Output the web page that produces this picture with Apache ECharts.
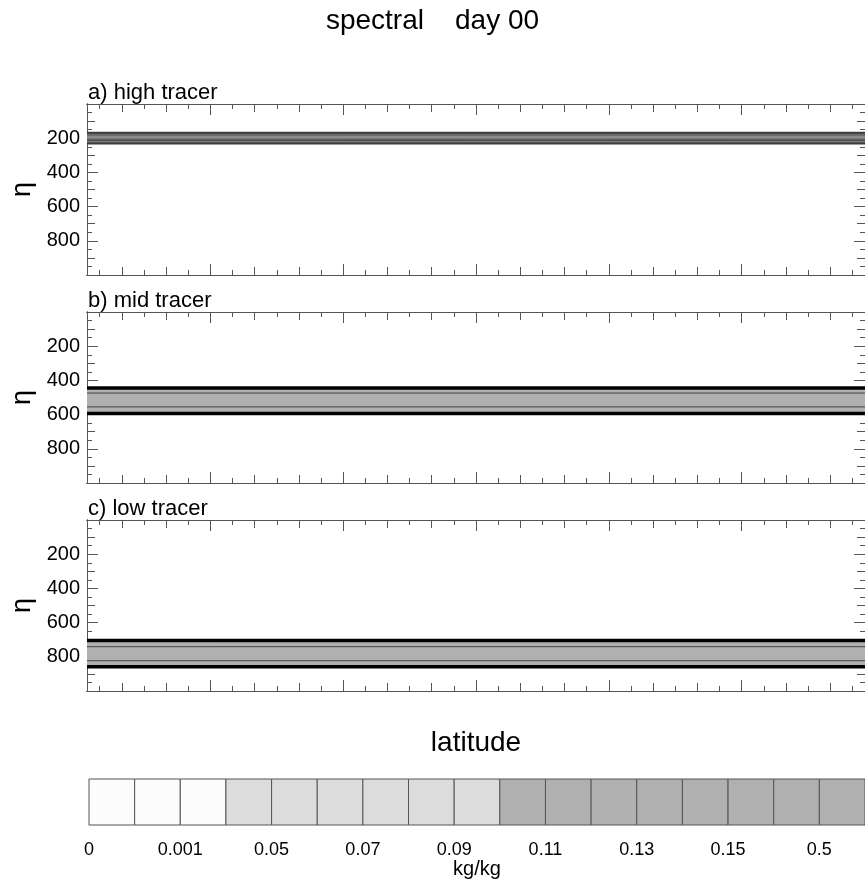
<!DOCTYPE html>
<html>
<head>
<meta charset="utf-8">
<title>spectral day 00</title>
<script src="https://cdn.jsdelivr.net/npm/echarts@6/dist/echarts.min.js"></script>
<style>
  html, body { margin: 0; padding: 0; background: #fff; }
  #chart { width: 865px; height: 884px; }
</style>
</head>
<body>
<div id="chart"></div>
<script>
// Latitude extent of the Gaussian grid (degrees)
const latEdges = [-87.86, 87.86];
// Vertical coordinate extent (eta, top to bottom)
const etaEdges = [0, 1000];

// Axis tick positions
const latTicksMajor = [-60, -30, 0, 30, 60];
const latTicksMid = [-80, -70, -50, -40, -20, -10, 10, 20, 40, 50, 70, 80];
const latTicksMinor = [-85, -75, -65, -55, -45, -35, -25, -15, -5, 5, 15, 25, 35, 45, 55, 65, 75, 85];
const etaTicksMajor = [200, 400, 600, 800];
const etaTicksMid = [100, 300, 500, 700, 900];
const etaTicksMinor = [50, 150, 250, 350, 450, 550, 650, 750, 850, 950];

// Panels
const panelTitles = ['a) high tracer', 'b) mid tracer', 'c) low tracer'];

// Tracer layer (filled band) and contour levels in eta, per panel
const highBand = [166, 232];
const highEdgeContours = [166, 232];
const highInnerContours = [172, 181, 206, 214, 224];

const midBand = [444, 594];
const midEdgeContours = [444, 594];
const midInnerContours = [474, 555];

const lowBand = [705, 858];
const lowEdgeContours = [705, 858];
const lowInnerContours = [741, 823];

// Colour bar: tick labels every second boundary and shade class of each cell
const colorbarLabels = ['0', '0.001', '0.05', '0.07', '0.09', '0.11', '0.13', '0.15', '0.5'];
const colorbarLabelPos = [0, 2, 4, 6, 8, 10, 12, 14, 16];
const colorbarShade = [0, 0, 0, 1, 1, 1, 1, 1, 1, 2, 2, 2, 2, 2, 2, 2, 2];

const FONT = '"Liberation Sans", Arial, Helvetica, sans-serif';
const shadePalette = ['#fcfcfc', '#dcdcdc', '#b0b0b0'];
const axisColor = '#555';

const panels = [
  { band: highBand, edge: highEdgeContours, inner: highInnerContours,
    fill: '#8c8c8c', edgeStyle: { color: '#3a3a3a', width: 1.5 }, innerStyle: { color: '#4a4a4a', width: 1 } },
  { band: midBand, edge: midEdgeContours, inner: midInnerContours,
    fill: shadePalette[2], edgeStyle: { color: '#000', width: 3.5 }, innerStyle: { color: '#444', width: 1 } },
  { band: lowBand, edge: lowEdgeContours, inner: lowInnerContours,
    fill: shadePalette[2], edgeStyle: { color: '#000', width: 3.5 }, innerStyle: { color: '#444', width: 1 } }
];

const gridLeft = 87, gridWidth = 788, gridHeight = 171;
const gridTops = [104, 312, 520];

const grids = [];
const xAxes = [];
const yAxes = [];
const series = [];
const titles = [{
  text: 'spectral    day 00',
  left: 'center', top: 7, padding: 0,
  textStyle: { fontFamily: FONT, fontSize: 28, fontWeight: 'normal', color: '#000' }
}];

const lineStyle = { color: axisColor, width: 1 };

gridTops.forEach((top, g) => {
  grids.push({ left: gridLeft, top: top, width: gridWidth, height: gridHeight, containLabel: false });
  titles.push({
    text: panelTitles[g], left: gridLeft + 1, top: top - 22, padding: 0,
    textStyle: { fontFamily: FONT, fontSize: 22, fontWeight: 'normal', color: '#000' }
  });

  // three tick levels along both horizontal edges
  const xIndex = xAxes.length;
  ['bottom', 'top'].forEach(pos => {
    [[latTicksMajor, 11], [latTicksMid, 8], [latTicksMinor, 5]].forEach(([vals, len], k) => {
      const ax = {
        gridIndex: g, type: 'value', position: pos,
        min: latEdges[0], max: latEdges[1],
        axisLine: { show: true, onZero: false, lineStyle },
        axisTick: { show: true, inside: true, length: len, customValues: vals, lineStyle },
        axisLabel: { show: false },
        splitLine: { show: false }
      };
      if (g === 2 && pos === 'bottom' && k === 0) {
        ax.name = 'latitude';
        ax.nameLocation = 'middle';
        ax.nameGap = 38;
        ax.nameTextStyle = { fontFamily: FONT, fontSize: 28, color: '#000' };
      }
      xAxes.push(ax);
    });
  });

  // three tick levels along both vertical edges
  const yIndex = yAxes.length;
  ['left', 'right'].forEach(pos => {
    [[etaTicksMajor, 11], [etaTicksMid, 8], [etaTicksMinor, 5]].forEach(([vals, len], k) => {
      const ax = {
        gridIndex: g, type: 'value', position: pos, inverse: true,
        min: etaEdges[0], max: etaEdges[1],
        axisLine: { show: true, onZero: false, lineStyle },
        axisTick: { show: true, inside: true, length: len, customValues: vals, lineStyle },
        axisLabel: { show: false },
        splitLine: { show: false }
      };
      if (pos === 'left' && k === 0) {
        ax.axisLabel = {
          show: true, customValues: etaTicksMajor, margin: 7,
          fontFamily: FONT, fontSize: 20, color: '#000'
        };
        ax.name = 'η';
        ax.nameLocation = 'middle';
        ax.nameGap = 50;
        ax.nameTextStyle = { fontFamily: FONT, fontSize: 27, color: '#000' };
      }
      yAxes.push(ax);
    });
  });

  const p = panels[g];
  // filled tracer layer
  series.push({
    type: 'line', xAxisIndex: xIndex, yAxisIndex: yIndex,
    data: [], silent: true, animation: false,
    markArea: {
      silent: true,
      itemStyle: { color: p.fill, opacity: 1 },
      data: [[{ xAxis: latEdges[0], yAxis: p.band[0] }, { xAxis: latEdges[1], yAxis: p.band[1] }]]
    }
  });
  // contour lines
  p.inner.forEach(eta => {
    series.push({
      type: 'line', xAxisIndex: xIndex, yAxisIndex: yIndex,
      data: [[latEdges[0], eta], [latEdges[1], eta]],
      showSymbol: false, silent: true, animation: false,
      lineStyle: p.innerStyle
    });
  });
  p.edge.forEach(eta => {
    series.push({
      type: 'line', xAxisIndex: xIndex, yAxisIndex: yIndex,
      data: [[latEdges[0], eta], [latEdges[1], eta]],
      showSymbol: false, silent: true, animation: false,
      lineStyle: p.edgeStyle
    });
  });
});

// colour bar
const cbGrid = grids.length;
grids.push({ left: 89, top: 779, width: 786, height: 46, containLabel: false });
const cbX = xAxes.length;
xAxes.push({
  gridIndex: cbGrid, type: 'value', position: 'bottom',
  min: 0, max: colorbarShade.length,
  axisLine: { show: false }, axisTick: { show: false }, splitLine: { show: false },
  axisLabel: {
    show: true, customValues: colorbarLabelPos, margin: 16,
    fontFamily: FONT, fontSize: 18, color: '#000',
    formatter: v => colorbarLabels[colorbarLabelPos.indexOf(Math.round(v))]
  },
  name: 'kg/kg', nameLocation: 'middle', nameGap: 34,
  nameTextStyle: { fontFamily: FONT, fontSize: 20, color: '#000' }
});
const cbY = yAxes.length;
yAxes.push({
  gridIndex: cbGrid, type: 'value', min: 0, max: 1, show: false
});
series.push({
  type: 'custom', xAxisIndex: cbX, yAxisIndex: cbY,
  data: colorbarShade.map((s, i) => [i, s]),
  clip: false, silent: true, animation: false,
  renderItem: (params, api) => {
    const i = api.value(0);
    const s = api.value(1);
    const p0 = api.coord([i, 1]);
    const p1 = api.coord([i + 1, 0]);
    return {
      type: 'rect',
      shape: { x: p0[0], y: p0[1], width: p1[0] - p0[0], height: p1[1] - p0[1] },
      style: { fill: shadePalette[s], stroke: '#555', lineWidth: 1 }
    };
  }
});

const chart = echarts.init(document.getElementById('chart'), null, { renderer: 'canvas' });
chart.setOption({
  backgroundColor: '#fff',
  animation: false,
  title: titles,
  grid: grids,
  xAxis: xAxes,
  yAxis: yAxes,
  series: series
});
</script>
</body>
</html>
